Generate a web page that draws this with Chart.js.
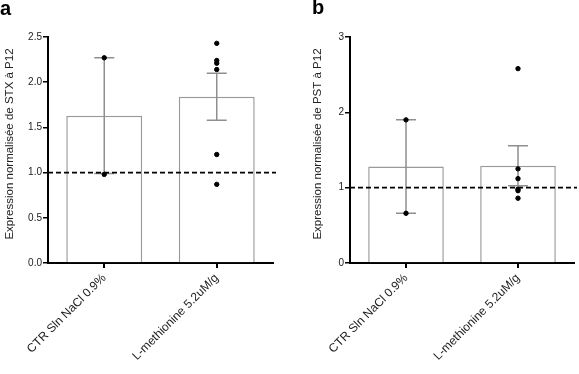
<!DOCTYPE html>
<html>
<head>
<meta charset="utf-8">
<script src="https://cdn.jsdelivr.net/npm/chart.js@4"></script>
<style>
    body { margin: 0; background: #fff; }
    #wrap { position: relative; width: 579px; height: 374px; }
    .panel { position: absolute; top: 0; height: 374px; }
    .tag { position: absolute; font: bold 20px "Liberation Sans", Arial, sans-serif; color: #000; }
</style>
</head>
<body>
<div id="wrap">
    <div class="panel" style="left:0;width:290px"><canvas id="chartA" width="290" height="374"></canvas></div>
    <div class="panel" style="left:290px;width:289px"><canvas id="chartB" width="289" height="374"></canvas></div>
    <div class="tag" style="left:0px;top:-3px">a</div>
    <div class="tag" style="left:312px;top:-4px">b</div>
</div>
<script>
// categories
const groups = ['CTR Sln NaCl 0.9%', 'L-methionine 5.2uM/g'];

// panel a : STX
const stxMean = [1.63, 1.84];
const stxSem = [0.64, 0.26];
const stxCtr = [2.27, 0.98];
const stxMet = [2.43, 2.24, 2.21, 2.14, 1.20, 0.87];
const stxTicks = [0, 0.5, 1.0, 1.5, 2.0, 2.5];

// panel b : PST
const pstMean = [1.28, 1.29];
const pstSem = [0.62, 0.265];
const pstCtr = [1.90, 0.66];
const pstMet = [2.58, 1.25, 1.12, 0.98, 0.96, 0.86];
const pstTicks = [0, 1, 2, 3];

const refLevel = 1;
const fontFam = '"Liberation Sans", Arial, sans-serif';

// barres d'erreur (SEM) dessinées juste après les barres
const errorBars = {
    id: 'errorBars',
    afterDatasetDraw(chart, args, opts) {
        if (args.index !== 0) return;
        const ctx = chart.ctx;
        const y = chart.scales.y;
        const meta = chart.getDatasetMeta(0);
        ctx.save();
        ctx.strokeStyle = '#8f8f8f';
        ctx.lineWidth = 1.5;
        meta.data.forEach((bar, i) => {
            const m = opts.mean[i], e = opts.sem[i];
            const top = y.getPixelForValue(m + e);
            const bot = y.getPixelForValue(m - e);
            ctx.beginPath();
            ctx.moveTo(bar.x, top); ctx.lineTo(bar.x, bot);
            ctx.moveTo(bar.x - 10, top); ctx.lineTo(bar.x + 10, top);
            ctx.moveTo(bar.x - 10, bot); ctx.lineTo(bar.x + 10, bot);
            ctx.stroke();
        });
        ctx.restore();
    }
};

// ligne pointillée à y = 1 + titre de l'axe y
const refLine = {
    id: 'refLine',
    afterDatasetsDraw(chart, args, opts) {
        const ctx = chart.ctx;
        const area = chart.chartArea;
        const yy = chart.scales.y.getPixelForValue(refLevel);
        ctx.save();
        ctx.strokeStyle = '#000';
        ctx.lineWidth = 1.6;
        ctx.setLineDash([5, 3]);
        ctx.beginPath();
        ctx.moveTo(area.left, yy);
        ctx.lineTo(area.right + 3, yy);
        ctx.stroke();
        ctx.setLineDash([]);

        // titre vertical
        ctx.translate(opts.titleX, (area.top + area.bottom) / 2 - 6);
        ctx.rotate(-Math.PI / 2);
        ctx.fillStyle = '#222';
        ctx.font = '11.5px ' + fontFam;
        ctx.textAlign = 'center';
        ctx.textBaseline = 'middle';
        ctx.fillText(opts.title, 0, 0);
        ctx.restore();
    }
};

function makePanel(id, title, mean, sem, ctr, met, ticks, decimals, yWidth, pad, titleX) {
    const pts = ctr.map(v => ({ x: groups[0], y: v }))
        .concat(met.map(v => ({ x: groups[1], y: v })));

    new Chart(document.getElementById(id), {
        type: 'bar',
        data: {
            labels: groups,
            datasets: [
                {
                    data: mean,
                    backgroundColor: '#fff',
                    borderColor: '#9a9a9a',
                    borderWidth: 1.5,
                    categoryPercentage: 1,
                    barPercentage: 0.675,
                    order: 2
                },
                {
                    type: 'scatter',
                    data: pts,
                    backgroundColor: '#000',
                    borderColor: '#000',
                    pointRadius: 2.2,
                    order: 1
                }
            ]
        },
        options: {
            responsive: false,
            animation: false,
            layout: { padding: pad },
            plugins: {
                legend: { display: false },
                tooltip: { enabled: false },
                errorBars: { mean: mean, sem: sem },
                refLine: { title: title, titleX: titleX }
            },
            scales: {
                x: {
                    grid: { display: true, offset: false, drawOnChartArea: false, tickLength: 5, color: '#000', lineWidth: 2 },
                    border: { color: '#000', width: 2 },
                    ticks: { autoSkip: false, minRotation: 45, maxRotation: 45, padding: 3, color: '#222', font: { family: fontFam, size: 12 } },
                    afterFit: s => { s.height = 111; }
                },
                y: {
                    min: ticks[0],
                    max: ticks[ticks.length - 1],
                    afterBuildTicks: s => { s.ticks = ticks.map(v => ({ value: v })); },
                    grid: { drawOnChartArea: false, tickLength: 5, color: '#000', lineWidth: 1.5 },
                    border: { color: '#000', width: 2 },
                    ticks: { padding: 1, color: '#222', font: { family: fontFam, size: 10 }, callback: v => v.toFixed(decimals) },
                    afterFit: s => { s.width = yWidth; }
                }
            }
        },
        plugins: [errorBars, refLine]
    });
}

makePanel('chartA', 'Expression normalisée de STX à P12', stxMean, stxSem, stxCtr, stxMet, stxTicks, 1, 48,
    { top: 37, right: 17, bottom: 0, left: 0 }, 10);
makePanel('chartB', 'Expression normalisée de PST à P12', pstMean, pstSem, pstCtr, pstMet, pstTicks, 0, 60,
    { top: 37, right: 3, bottom: 0, left: 0 }, 28);
</script>
</body>
</html>
